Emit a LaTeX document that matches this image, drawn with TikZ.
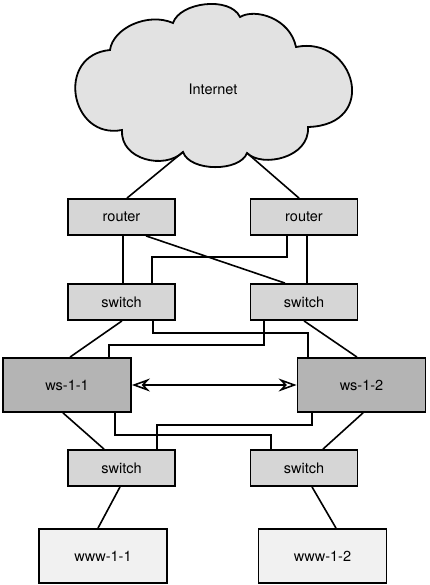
\documentclass[tikz,border=0pt]{standalone}
\usepackage{fontspec}
\setmainfont{TeX Gyre Heros}
\usetikzlibrary{calc,arrows.meta}
\definecolor{boxgray}{HTML}{D6D6D6}
\definecolor{wsgray}{HTML}{B4B4B4}
\definecolor{wwwgray}{HTML}{F1F1F1}
\definecolor{cloudgray}{HTML}{E2E2E2}
\tikzset{
  box/.style={draw=black, line width=1.8pt, rectangle, inner sep=0pt,
    font=\fontsize{14.5}{17}\selectfont},
  netbox/.style={box, fill=boxgray, minimum width=107pt, minimum height=36pt},
  wsbox/.style={box, fill=wsgray, minimum width=128pt, minimum height=54pt},
  wwwbox/.style={box, fill=wwwgray, minimum width=128pt, minimum height=54pt},
  link/.style={draw=black, line width=1.6pt},
  openhead/.style={arrows={Stealth[open,fill=white,line width=1.6pt,length=18pt,width=13pt,inset=6pt]-Stealth[open,fill=white,line width=1.6pt,length=18pt,width=13pt,inset=6pt]}},
}
\begin{document}
\begin{tikzpicture}[x=1pt,y=-1pt]
\useasboundingbox (0,0) rectangle (430,585);
% cloud
\coordinate (cA) at (110,50);
\coordinate (cB) at (173,23);
\coordinate (cC) at (240,17);
\coordinate (cD) at (296,47);
\coordinate (cE) at (308,127);
\coordinate (cF) at (247,153);
\coordinate (cG) at (183,152);
\coordinate (cH) at (122,130);
\draw[line width=1.8pt, fill=cloudgray]
  (cA) .. controls (113,28) and (148,12) .. (cB)
  .. controls (180,2) and (230,-4) .. (cC)
  .. controls (255,8) and (290,18) .. (cD)
  .. controls (355,35) and (380,125) .. (cE)
  .. controls (310,158) and (262,168) .. (cF)
  .. controls (240,172) and (190,172) .. (cG)
  .. controls (165,170) and (120,160) .. (cH)
  .. controls (70,140) and (55,55) .. cycle;
\node[font=\fontsize{14.5}{17}\selectfont] (internet) at (213,89) {Internet};

% nodes
\node[netbox] (r1) at (121.5,217) {router};
\node[netbox] (r2) at (304,217) {router};
\node[netbox] (s1) at (121.5,302) {switch};
\node[netbox] (s2) at (304,302) {switch};
\node[wsbox] (ws1) at (67,385) {ws-1-1};
\node[wsbox] (ws2) at (361.5,385) {ws-1-2};
\node[netbox] (ls1) at (121.5,468) {switch};
\node[netbox] (ls2) at (304,468) {switch};
\node[wwwbox] (www1) at (103,556) {www-1-1};
\node[wwwbox] (www2) at (322.5,556) {www-1-2};

% cloud to routers
\draw[link] (cG) -- ($(r1.north)+(5.5,0)$);
\draw[link] (cF) -- ($(r2.north)+(-5,0)$);

% routers to switches
\draw[link] ($(r1.south)+(1.5,0)$) -- ($(s1.north)+(1.5,0)$);
\draw[link] ($(r1.south)+(24.5,0)$) -- ($(s2.north)+(-19,0)$);
\draw[link] ($(r2.south)+(-17,0)$) -- ++(0,21) -| ($(s1.north)+(30.5,0)$);
\draw[link] ($(r2.south)+(3,0)$) -- ($(s2.north)+(3,0)$);

% switches to ws
\draw[link] ($(s1.south)+(0.5,0)$) -- ($(ws1.north)+(3,0)$);
\draw[link] ($(s1.south)+(31.5,0)$) -- ++(0,12) -| ($(ws2.north)+(-53.5,0)$);
\draw[link] ($(s2.south)+(-40,0)$) -- ++(0,24) -| ($(ws1.north)+(42,0)$);
\draw[link] ($(s2.south)+(0,0)$) -- ($(ws2.north)+(-4.5,0)$);

% ws to ws
\draw[link, openhead] (ws1.east) -- (ws2.west);

% ws to lower switches
\draw[link] ($(ws1.south)+(-4,0)$) -- ($(ls1.north)+(-17.5,0)$);
\draw[link] ($(ws1.south)+(48,0)$) -- ++(0,22) -| ($(ls2.north)+(-33,0)$);
\draw[link] ($(ws2.south)+(-49.5,0)$) -- ++(0,12) -| ($(ls1.north)+(35.5,0)$);
\draw[link] ($(ws2.south)+(1.5,0)$) -- ($(ls2.north)+(19,0)$);

% lower switches to www
\draw[link] ($(ls1.south)+(-1.5,0)$) -- ($(www1.north)+(-5,0)$);
\draw[link] ($(ls2.south)+(8,0)$) -- ($(www2.north)+(13.5,0)$);
\end{tikzpicture}
\end{document}
